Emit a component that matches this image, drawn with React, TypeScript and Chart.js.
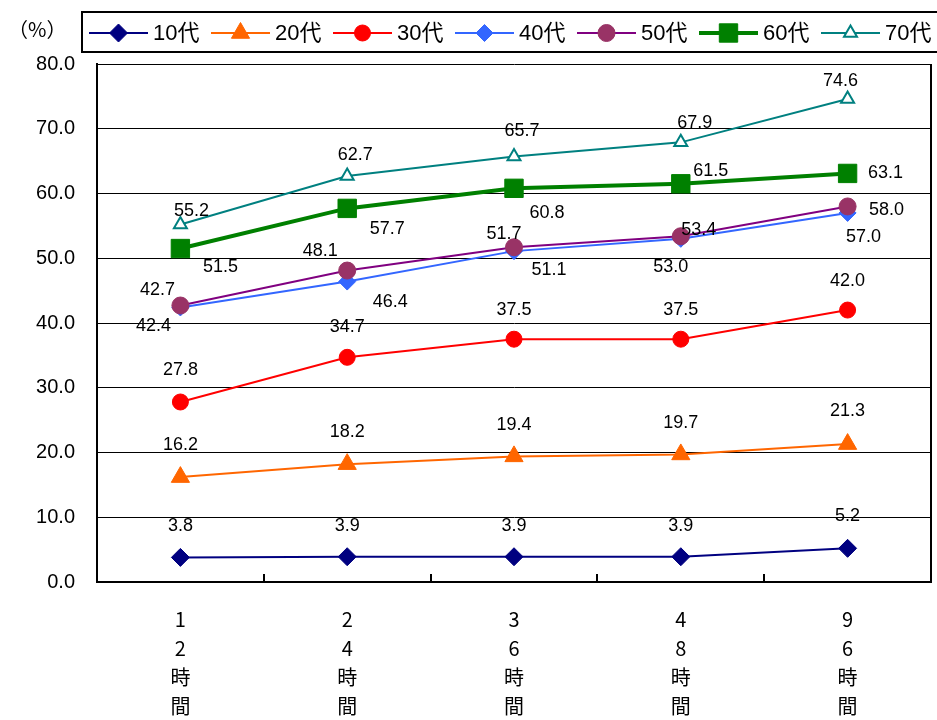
import React, { useEffect, useRef } from 'react';
import { Chart, registerables } from 'chart.js';

Chart.register(...registerables);

// ---- data ----
const categories: string[][] = [
  ['1', '2', '時', '間'],
  ['2', '4', '時', '間'],
  ['3', '6', '時', '間'],
  ['4', '8', '時', '間'],
  ['9', '6', '時', '間'],
];
const seriesNames = ['10代', '20代', '30代', '40代', '50代', '60代', '70代'];
const v10 = [3.8, 3.9, 3.9, 3.9, 5.2];
const v20 = [16.2, 18.2, 19.4, 19.7, 21.3];
const v30 = [27.8, 34.7, 37.5, 37.5, 42.0];
const v40 = [42.4, 46.4, 51.1, 53.0, 57.0];
const v50 = [42.7, 48.1, 51.7, 53.4, 58.0];
const v60 = [51.5, 57.7, 60.8, 61.5, 63.1];
const v70 = [55.2, 62.7, 65.7, 67.9, 74.6];
const yMin = 0;
const yMax = 80;
const yStep = 10;
const unitLabel = '（%）';

// ---- styles ----
type Sty = { line: string; fill: string; stroke: string; shape: string; r: number; lw: number };
const styles: Sty[] = [
  { line: '#000080', fill: '#000080', stroke: '#000080', shape: 'rectRot', r: 9, lw: 2 },
  { line: '#FF6600', fill: '#FF6600', stroke: '#FF6600', shape: 'triangle', r: 10.5, lw: 2 },
  { line: '#FF0000', fill: '#FF0000', stroke: '#FF0000', shape: 'circle', r: 8, lw: 2 },
  { line: '#3366FF', fill: '#3366FF', stroke: '#3366FF', shape: 'rectRot', r: 8.5, lw: 2 },
  { line: '#800080', fill: '#993366', stroke: '#993366', shape: 'circle', r: 8.5, lw: 2 },
  { line: '#008000', fill: '#008000', stroke: '#008000', shape: 'rect', r: 13, lw: 4 },
  { line: '#008080', fill: '#FFFFFF', stroke: '#008080', shape: 'triangle', r: 7.5, lw: 2 },
];

// label placement (pixel offsets from the point) per series / point
const labelOffsets: number[][][] = [
  [[0, -31], [0, -31], [0, -31], [0, -31], [0, -32]],
  [[0, -32], [0, -32], [0, -31], [0, -31], [0, -33]],
  [[0, -32], [0, -30], [0, -29], [0, -29], [0, -29]],
  [[-27, 19], [43, 20], [35, 19], [-10, 28], [16, 24]],
  [[-23, -15], [-27, -20], [-10, -13], [18, -6], [39, 4]],
  [[40, 18], [40, 21], [33, 25], [30, -13], [38, 0]],
  [[11, -14], [8, -21], [8, -26], [14, -19], [-7, -18]],
];

const allValues = [v10, v20, v30, v40, v50, v60, v70];
const latin = '"Liberation Sans", Arial, "Noto Sans CJK JP", sans-serif';
const cjk = '"Noto Sans CJK JP", "Liberation Sans", sans-serif';

function drawShape(ctx: CanvasRenderingContext2D, shape: string, x: number, y: number, r: number, fill: string, stroke: string, bw: number) {
  ctx.save();
  ctx.beginPath();
  if (shape === 'circle') {
    ctx.arc(x, y, r, 0, Math.PI * 2);
  } else if (shape === 'rectRot') {
    ctx.moveTo(x - r, y);
    ctx.lineTo(x, y - r);
    ctx.lineTo(x + r, y);
    ctx.lineTo(x, y + r);
    ctx.closePath();
  } else if (shape === 'triangle') {
    for (let k = 0; k < 3; k++) {
      const a = (k * 2 * Math.PI) / 3;
      const px = x + Math.sin(a) * r;
      const py = y - Math.cos(a) * r;
      if (k === 0) ctx.moveTo(px, py);
      else ctx.lineTo(px, py);
    }
    ctx.closePath();
  } else {
    const s = Math.SQRT1_2 * r;
    ctx.rect(x - s, y - s, 2 * s, 2 * s);
  }
  ctx.fillStyle = fill;
  ctx.fill();
  ctx.lineWidth = bw;
  ctx.strokeStyle = stroke;
  ctx.stroke();
  ctx.restore();
}

const decorPlugin = {
  id: 'decor',
  beforeDraw(chart: any) {
    const ctx = chart.ctx as CanvasRenderingContext2D;
    ctx.save();
    ctx.fillStyle = '#fff';
    ctx.fillRect(0, 0, chart.width, chart.height);
    ctx.restore();
  },
  afterDraw(chart: any) {
    const ctx = chart.ctx as CanvasRenderingContext2D;
    const area = chart.chartArea;
    const xs = chart.scales.x;
    ctx.save();
    // right border
    ctx.strokeStyle = '#000';
    ctx.lineWidth = 2;
    ctx.beginPath();
    ctx.moveTo(area.right, area.top);
    ctx.lineTo(area.right, area.bottom + 1);
    ctx.stroke();
    // inner x ticks at category boundaries
    ctx.lineWidth = 2;
    for (let i = 0; i < categories.length - 1; i++) {
      const bx = Math.round((xs.getPixelForValue(i) + xs.getPixelForValue(i + 1)) / 2);
      ctx.beginPath();
      ctx.moveTo(bx, area.bottom);
      ctx.lineTo(bx, area.bottom - 8);
      ctx.stroke();
    }
    // unit label
    ctx.fillStyle = '#000';
    ctx.font = '20px ' + cjk;
    ctx.textAlign = 'left';
    ctx.textBaseline = 'middle';
    ctx.fillText(unitLabel, 8, 29);
    // legend box
    ctx.lineWidth = 2;
    ctx.strokeStyle = '#000';
    ctx.strokeRect(82, 12, 870, 40);
    const cy = 33;
    seriesNames.forEach((name, i) => {
      const st = styles[i];
      const x0 = 89 + 122 * i;
      ctx.strokeStyle = st.line;
      ctx.lineWidth = st.lw;
      ctx.beginPath();
      ctx.moveTo(x0, cy);
      ctx.lineTo(x0 + 59, cy);
      ctx.stroke();
      drawShape(ctx, st.shape, x0 + 29.5, cy, st.r, st.fill, st.stroke, st.fill === '#FFFFFF' ? 2 : 1);
      ctx.fillStyle = '#000';
      ctx.font = '22px ' + latin;
      ctx.textAlign = 'left';
      ctx.textBaseline = 'middle';
      ctx.fillText(name, x0 + 64, cy + 1);
    });
    ctx.restore();
  },
  afterDatasetsDraw(chart: any) {
    const ctx = chart.ctx as CanvasRenderingContext2D;
    ctx.save();
    ctx.fillStyle = '#000';
    ctx.font = '18px ' + latin;
    ctx.textAlign = 'center';
    ctx.textBaseline = 'middle';
    allValues.forEach((vals, i) => {
      const meta = chart.getDatasetMeta(i);
      vals.forEach((v, j) => {
        const p = meta.data[j];
        const [dx, dy] = labelOffsets[i][j];
        ctx.fillText(v.toFixed(1), p.x + dx, p.y + dy);
      });
    });
    ctx.restore();
  },
};

export default function App() {
  const ref = useRef<HTMLCanvasElement | null>(null);
  useEffect(() => {
    if (!ref.current) return;
    const chart = new Chart(ref.current, {
      type: 'line',
      data: {
        labels: categories as any,
        datasets: allValues.map((vals, i) => ({
          label: seriesNames[i],
          data: vals,
          borderColor: styles[i].line,
          borderWidth: styles[i].lw,
          backgroundColor: styles[i].fill,
          pointStyle: styles[i].shape as any,
          pointRadius: styles[i].r,
          pointHoverRadius: styles[i].r,
          pointBackgroundColor: styles[i].fill,
          pointBorderColor: styles[i].stroke,
          pointBorderWidth: styles[i].fill === '#FFFFFF' ? 2 : 1,
          tension: 0,
          fill: false,
          order: 10 - i,
          clip: false as any,
        })),
      },
      options: {
        animation: false,
        responsive: true,
        maintainAspectRatio: false,
        layout: { autoPadding: false, padding: { left: 0, right: 6, top: 64, bottom: 0 } },
        plugins: { legend: { display: false }, tooltip: { enabled: false }, title: { display: false } },
        scales: {
          x: {
            offset: true,
            grid: { drawOnChartArea: false, drawTicks: false },
            border: { display: true, color: '#000', width: 2 },
            ticks: {
              color: '#000',
              font: { family: cjk, size: 20, lineHeight: 1.45 },
              padding: 23,
              autoSkip: false,
              maxRotation: 0,
              minRotation: 0,
            },
            afterFit: (s: any) => {
              s.height = 138;
              s.paddingLeft = 0;
              s.paddingRight = 0;
            },
          },
          y: {
            min: yMin,
            max: yMax,
            grid: { color: '#000', lineWidth: 1, drawTicks: false },
            border: { display: true, color: '#000', width: 2 },
            ticks: {
              stepSize: yStep,
              color: '#000',
              font: { family: latin, size: 20 },
              padding: 22,
              callback: (v: any) => Number(v).toFixed(1),
            },
            afterFit: (s: any) => { s.width = 97; },
          },
        },
      },
      plugins: [decorPlugin],
    });
    return () => chart.destroy();
  }, []);
  return (
    <div style={{ position: 'absolute', left: 0, top: 0, width: 937, height: 720, background: '#fff' }}>
      <canvas ref={ref} />
    </div>
  );
}
